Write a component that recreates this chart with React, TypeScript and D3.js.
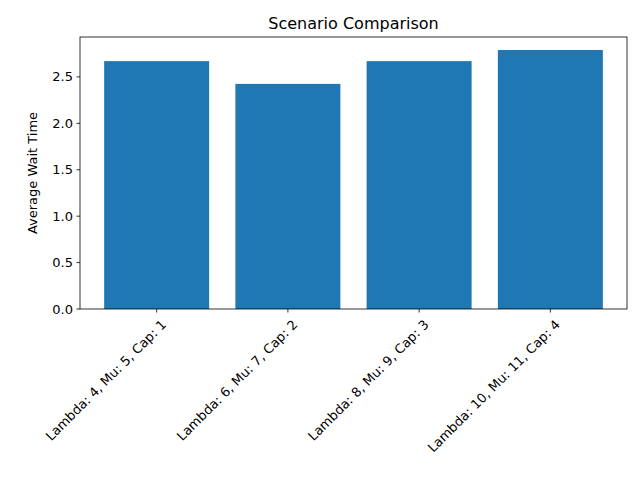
import React from "react";
import * as d3 from "d3";

const categories = ["Lambda: 4, Mu: 5, Cap: 1", "Lambda: 6, Mu: 7, Cap: 2", "Lambda: 8, Mu: 9, Cap: 3", "Lambda: 10, Mu: 11, Cap: 4"];
const values = [2.67, 2.425, 2.67, 2.79];
const yTicks = [0, 0.5, 1.0, 1.5, 2.0, 2.5];

export default function App() {
  const L = 80, R = 627, T = 37, B = 309;
  const x = d3.scaleBand<string>().domain(categories).range([L, R]).paddingInner(0.2).paddingOuter(0.184);
  const y = d3.scaleLinear().domain([0, 2.93]).range([B, T]);
  const font = "DejaVu Sans, sans-serif";
  return (
    <svg width={640} height={480} style={{ position: "absolute", left: 0, top: 0, background: "#fff" }} fontFamily={font}>
      <rect width={640} height={480} fill="#fff" />
      {categories.map((c, i) => (
        <rect key={c} x={x(c)} y={y(values[i])} width={x.bandwidth()} height={B - y(values[i])} fill="#1f77b4" />
      ))}
      <rect x={L} y={T} width={R - L} height={B - T} fill="none" stroke="#000" strokeWidth={0.8} />
      {yTicks.map(t => (
        <g key={t}>
          <line x1={L - 3.5} x2={L} y1={y(t)} y2={y(t)} stroke="#000" strokeWidth={0.8} />
          <text x={L - 7} y={y(t)} dy="0.35em" textAnchor="end" fontSize={13}>{t.toFixed(1)}</text>
        </g>
      ))}
      {categories.map(c => {
        const cx = x(c)! + x.bandwidth() / 2;
        return (
          <g key={c}>
            <line x1={cx} x2={cx} y1={B} y2={B + 3.5} stroke="#000" strokeWidth={0.8} />
            <text transform={`translate(${cx + 4},${B + 10}) rotate(-45)`} textAnchor="end" dy="0.7em" fontSize={13}>{c}</text>
          </g>
        );
      })}
      <text transform={`translate(37,${(T + B) / 2}) rotate(-90)`} textAnchor="middle" fontSize={13}>Average Wait Time</text>
      <text x={(L + R) / 2} y={29} textAnchor="middle" fontSize={16}>Scenario Comparison</text>
    </svg>
  );
}
